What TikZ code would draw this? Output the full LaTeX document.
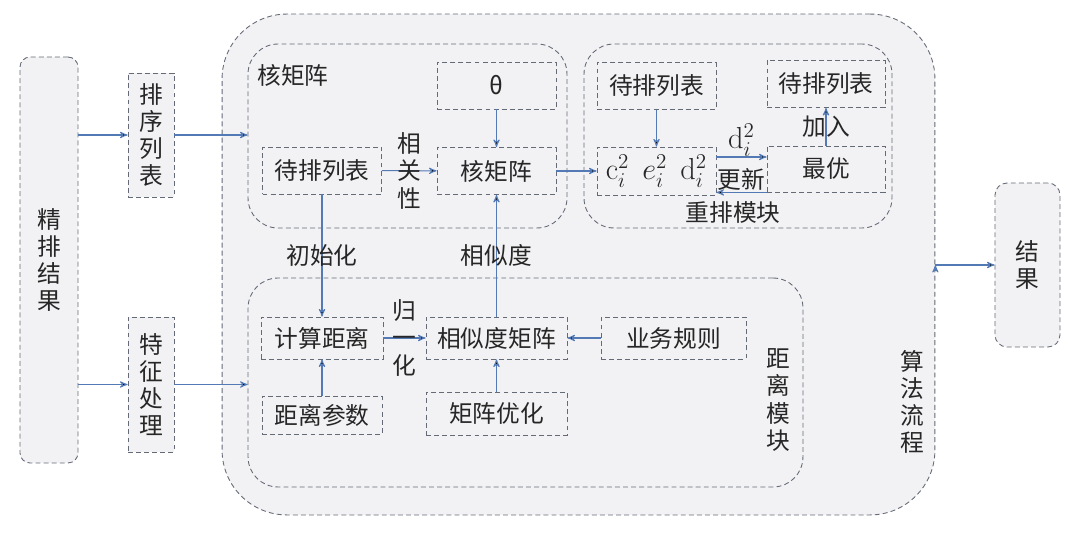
\documentclass[tikz,border=0pt]{standalone}
\usepackage{amsmath}
\usepackage[no-math]{fontspec}
\setmainfont{Noto Sans CJK SC}
\usetikzlibrary{arrows}

\definecolor{panel}{RGB}{242,242,244}
\definecolor{edgegray}{RGB}{100,106,118}
\definecolor{flow}{RGB}{84,122,182}

\tikzset{
	frame/.style={draw=edgegray, dash pattern=on 2.8pt off 1.8pt, line width=0.5pt, fill=panel, inner sep=0pt},
	module/.style={frame, rounded corners=0.6cm},
	box/.style={frame, minimum width=2.38cm, minimum height=0.94cm},
	tall/.style={frame, minimum width=0.92cm, align=center},
	lbl/.style={inner sep=1pt, align=center},
	mathbig/.style={font=\fontsize{16.5}{18}\selectfont},
}

\begin{document}
\begin{tikzpicture}[>=stealth', x=0.02cm, y=-0.02cm,
		every node/.style={font=\fontsize{13.5}{15.5}\selectfont, text=black!85}]
	\useasboundingbox[fill=white] (0,0) rectangle (1080,550);

	% containers
	\node (algo) [module, rounded corners=1.3cm, minimum width=14.26cm, minimum height=10.02cm] at (578.5,264.5) {};
	\node (kernel) [module, minimum width=6.38cm, minimum height=3.68cm] at (407.5,136) {};
	\node (rerank) [module, minimum width=6.16cm, minimum height=3.68cm] at (738,136) {};
	\node (dist) [module, minimum width=11.1cm, minimum height=4.18cm] at (525.5,382.5) {};

	\node (kernellbl) [lbl] at (293,75) {核矩阵};
	\node (rerankl) [lbl] at (733,213) {重排模块};
	\node (distlbl) [lbl] at (778,400) {距\\离\\模\\块};
	\node (algolbl) [lbl] at (912,402) {算\\法\\流\\程};

	% input and output
	\node (fine) [tall, rounded corners=0.2cm, minimum width=1.16cm, minimum height=8.12cm] at (49,260) {精\\排\\结\\果};
	\node (rank) [tall, minimum height=2.48cm] at (151,135) {排\\序\\列\\表};
	\node (feat) [tall, minimum height=2.7cm] at (151,384.5) {特\\征\\处\\理};
	\node (result) [tall, rounded corners=0.24cm, minimum width=1.3cm, minimum height=3.28cm] at (1027.5,265) {结\\果};

	% kernel matrix
	\node (theta) [box] at (496.5,85.5) {θ};
	\node (cand) [box] at (322,170.5) {待排列表};
	\node (kmat) [box] at (496.5,171) {核矩阵};

	% rerank
	\node (pend) [box] at (656.5,86) {待排列表};
	\node (ced) [box, mathbig, minimum height=0.96cm] at (656.5,171) {$\mathrm{c}_i^2\ \ e_i^2\ \ \mathrm{d}_i^2$};
	\node (best) [box, minimum width=2.36cm, minimum height=0.92cm] at (826,169) {最优};
	\node (added) [box, minimum width=2.36cm] at (826,84) {待排列表};

	% distance
	\node (calc) [box, minimum width=2.44cm, minimum height=0.84cm] at (322,338) {计算距离};
	\node (param) [box, minimum width=2.4cm, minimum height=0.76cm] at (322,415) {距离参数};
	\node (sim) [box, minimum width=2.82cm, minimum height=0.84cm] at (496.5,338) {相似度矩阵};
	\node (opt) [box, minimum width=2.82cm, minimum height=0.86cm] at (496.5,413.5) {矩阵优化};
	\node (rule) [box, minimum width=2.9cm, minimum height=0.84cm] at (673.5,338) {业务规则};

	\coordinate (topin) at ([yshift=0.28cm]ced.east);

	\path[->, draw=flow, line width=0.6pt]
		(fine.east |- rank.west) edge (rank.west)
		(fine.east |- feat.west) edge (feat.west)
		(rank.east) edge (rank.east -| kernel.west)
		(feat.east) edge (feat.east -| dist.west)
		(theta) edge (kmat)
		(cand) edge node[lbl] {相\\关\\性} (kmat)
		(kmat) edge (ced)
		(pend) edge (ced)
		(topin) edge node[lbl, mathbig, above, inner sep=0pt] {$\mathrm{d}_i^2$} (topin -| best.west)
		(best.south west) edge node[lbl, above] {更新} (best.south west -| ced.east)
		(best) edge node[lbl] {加入} (added)
		(cand) edge node[lbl] {初始化} (calc)
		(sim) edge node[lbl] {相似度} (kmat)
		(param) edge (calc)
		(calc) edge node[lbl] {归\\一\\化} (sim)
		(opt) edge (sim)
		(rule) edge (sim)
		(algo.east |- result.west) edge (result.west);
\end{tikzpicture}
\end{document}
